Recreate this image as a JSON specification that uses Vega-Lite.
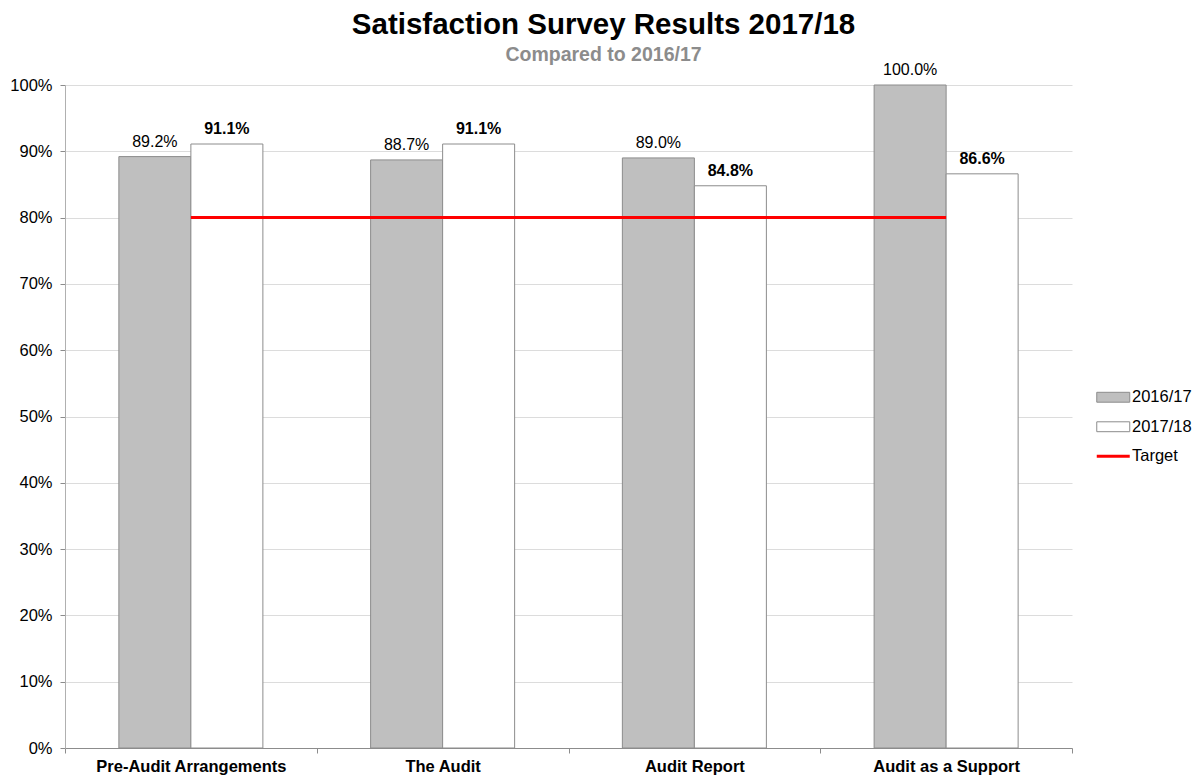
{
  "$schema": "https://vega.github.io/schema/vega-lite/v6.json",
  "width": 1007,
  "height": 663,
  "autosize": "none",
  "padding": {"left": 65, "top": 85, "right": 126, "bottom": 27},
  "background": "white",
  "config": {"font": "Liberation Sans", "view": {"stroke": null}},
  "title": {
    "text": "Satisfaction Survey Results 2017/18",
    "subtitle": "Compared to 2016/17",
    "fontSize": 29.5,
    "fontWeight": "bold",
    "color": "#000000",
    "subtitleFontSize": 19.5,
    "subtitleFontWeight": "bold",
    "subtitleColor": "#8c8c8c",
    "anchor": "middle",
    "dx": 35,
    "offset": -3,
    "subtitlePadding": 5
  },
  "datasets": {
    "bars": [
      {"category": "Pre-Audit Arrangements", "series": "2016/17", "value": 0.892},
      {"category": "Pre-Audit Arrangements", "series": "2017/18", "value": 0.911},
      {"category": "The Audit", "series": "2016/17", "value": 0.887},
      {"category": "The Audit", "series": "2017/18", "value": 0.911},
      {"category": "Audit Report", "series": "2016/17", "value": 0.890},
      {"category": "Audit Report", "series": "2017/18", "value": 0.848},
      {"category": "Audit as a Support", "series": "2016/17", "value": 1.000},
      {"category": "Audit as a Support", "series": "2017/18", "value": 0.866}
    ],
    "target": [
      {"start": "Pre-Audit Arrangements", "end": "Audit as a Support", "target": 0.8}
    ]
  },
  "layer": [
    {
      "data": {"name": "bars"},
      "mark": {"type": "bar", "stroke": "#8c8c8c", "strokeWidth": 1},
      "encoding": {
        "x": {
          "field": "category",
          "type": "nominal",
          "scale": {"domain": ["Pre-Audit Arrangements", "The Audit", "Audit Report", "Audit as a Support"], "paddingInner": 0, "paddingOuter": 0},
          "axis": {
            "title": null,
            "labelAngle": 0,
            "labelLimit": 400,
            "tickBand": "extent",
            "labelFontWeight": "bold",
            "labelFontSize": 16.5,
            "labelColor": "#000000",
            "domainColor": "#8c8c8c",
            "tickColor": "#8c8c8c",
            "tickSize": 5,
            "labelPadding": 5
          }
        },
        "xOffset": {
          "field": "series",
          "type": "nominal",
          "scale": {"domain": ["2016/17", "2017/18"], "paddingOuter": 0.748, "paddingInner": 0}
        },
        "y": {
          "field": "value",
          "type": "quantitative",
          "scale": {"domain": [0, 1], "nice": false},
          "axis": {
            "title": null,
            "format": "%",
            "values": [0, 0.1, 0.2, 0.3, 0.4, 0.5, 0.6, 0.7, 0.8, 0.9, 1.0],
            "grid": true,
            "gridColor": "#dcdcdc",
            "domainColor": "#b0b0b0",
            "tickColor": "#8c8c8c",
            "tickSize": 5,
            "labelFontSize": 16.5,
            "labelColor": "#000000",
            "labelPadding": 8
          }
        },
        "fill": {
          "field": "series",
          "type": "nominal",
          "scale": {"domain": ["2016/17", "2017/18", "Target"], "range": ["#bfbfbf", "#ffffff", "#ff0000"]},
          "legend": {
            "title": null,
            "orient": "none",
            "legendX": 1040,
            "legendY": 304,
            "labelFontSize": 16.5,
            "labelColor": "#000000",
            "symbolType": "M-2,-0.6h4v1.2h-4z",
            "symbolSize": 272,
            "symbolStrokeColor": "#8c8c8c",
            "symbolStrokeWidth": 1,
            "symbolOpacity": 1,
            "labelOffset": 10.5,
            "rowPadding": 12.5,
            "encode": {
              "symbols": {
                "update": {
                  "shape": {"signal": "datum.value === 'Target' ? 'M-2,-0.18h4v0.36h-4z' : 'M-2,-0.6h4v1.2h-4z'"},
                  "strokeWidth": {"signal": "datum.value === 'Target' ? 0 : 1"}
                }
              }
            }
          }
        }
      }
    },
    {
      "data": {"name": "bars"},
      "transform": [{"filter": "datum.series === '2016/17'"}],
      "mark": {"type": "text", "fontSize": 16, "fontWeight": "normal", "baseline": "alphabetic", "dy": -10, "color": "#000000"},
      "encoding": {
        "x": {"field": "category", "type": "nominal"},
        "xOffset": {"field": "series", "type": "nominal"},
        "y": {"field": "value", "type": "quantitative"},
        "text": {"field": "value", "type": "quantitative", "format": ".1%"}
      }
    },
    {
      "data": {"name": "bars"},
      "transform": [{"filter": "datum.series === '2017/18'"}],
      "mark": {"type": "text", "fontSize": 16, "fontWeight": "bold", "baseline": "alphabetic", "dy": -10, "color": "#000000"},
      "encoding": {
        "x": {"field": "category", "type": "nominal"},
        "xOffset": {"field": "series", "type": "nominal"},
        "y": {"field": "value", "type": "quantitative"},
        "text": {"field": "value", "type": "quantitative", "format": ".1%"}
      }
    },
    {
      "data": {"name": "target"},
      "mark": {"type": "rule", "color": "#ff0000", "strokeWidth": 3},
      "encoding": {
        "x": {"field": "start", "type": "nominal", "bandPosition": 0.5},
        "x2": {"field": "end", "bandPosition": 0.5},
        "y": {"field": "target", "type": "quantitative"}
      }
    }
  ]
}
